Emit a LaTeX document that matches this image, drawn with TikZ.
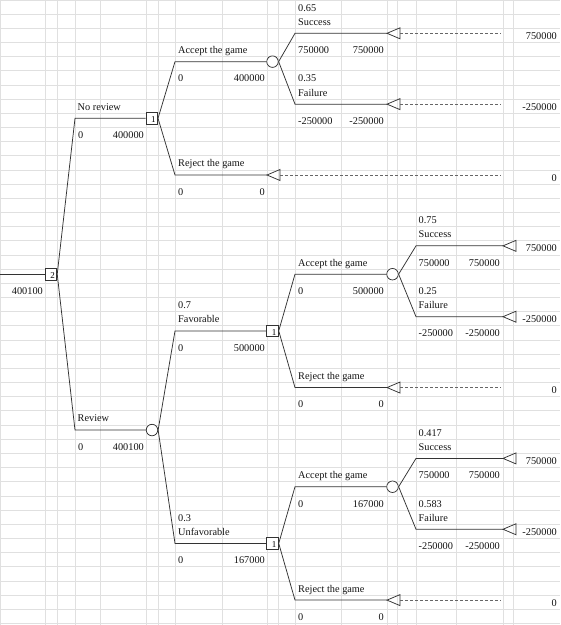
\documentclass[tikz,border=0pt]{standalone}
\usepackage{fontspec}
\setmainfont{Liberation Serif}
\usetikzlibrary{shapes.geometric}
\tikzset{
  gridline/.style={draw=black!12, line width=0.9pt},
  cell/.style={font=\fontsize{10.3}{12}\selectfont, inner sep=0pt, text=black!92},
  lcell/.style={cell, anchor=base west},
  rcell/.style={cell, anchor=base east},
  branch/.style={draw=black!80, line width=0.75pt},
  dashlink/.style={draw=black!60, line width=0.7pt, dash pattern=on 3pt off 2pt},
  decision/.style={draw=black!80, line width=0.75pt, rectangle, minimum size=11.7pt, inner sep=0pt, fill=white},
  chance/.style={draw=black!80, line width=0.75pt, circle, minimum size=11.5pt, inner sep=0pt, fill=white},
  endtri/.style={draw=black!80, line width=0.75pt, isosceles triangle, shape border rotate=180,
    isosceles triangle stretches, minimum width=11pt, minimum height=13pt, inner sep=0pt, outer sep=0pt, anchor=apex},
  nodenum/.style={font=\fontsize{9}{9}\selectfont, inner sep=0pt, xshift=1.5pt, yshift=-1.5pt}
}
\begin{document}
\begin{tikzpicture}[x=1pt, y=-14.17pt]
\useasboundingbox (0,0) rectangle (560,44.107);
\fill[white] (0,0) rectangle (560,44.107);
% sheet grid
\foreach \gx in {0.5,45,57,75,100,146,158,175,222,267,278,295,341,387,397,416,456,503,513}
  \draw[gridline] (\gx,0) -- (\gx,44.107);
\foreach \gy in {0.04,1,2,...,44}
  \draw[gridline] (0,\gy) -- (560,\gy);

% root decision
\coordinate (in) at (0,19.35);
\node[decision] (d0) at (51,19.35) {};
\node[nodenum] (n0) at (d0.center) {2};
\draw[branch] (in) -- (d0);
\node[rcell] (v0) at (43,20.78) {400100};

% no review
\coordinate (b1) at (75,8.35);
\node[decision] (d1) at (151.8,8.35) {};
\node[nodenum] (n1) at (d1.center) {1};
\draw[branch] (d0.east) -- (b1) -- (d1);
\node[lcell] (l1) at (77.5,7.78) {No review};
\node[lcell] (p1) at (78,9.78) {0};
\node[rcell] (q1) at (144,9.78) {400000};

% review
\coordinate (b2) at (75,30.35);
\node[chance] (c0) at (152,30.35) {};
\draw[branch] (d0.east) -- (b2) -- (c0);
\node[lcell] (l2) at (77.5,29.78) {Review};
\node[lcell] (p2) at (78,31.78) {0};
\node[rcell] (q2) at (144,31.78) {400100};

% no review: accept
\coordinate (b3) at (175,4.35);
\node[chance] (c1) at (272.5,4.35) {};
\draw[branch] (d1.east) -- (b3) -- (c1);
\node[lcell] (l3) at (178,3.78) {Accept the game};
\node[lcell] (p3) at (178,5.78) {0};
\node[rcell] (q3) at (265,5.78) {400000};

% no review: reject
\coordinate (b4) at (175,12.35);
\node[endtri] (t1) at (267,12.35) {};
\coordinate (e1) at (501,12.35);
\draw[branch] (d1.east) -- (b4) -- (t1.apex);
\draw[dashlink] (t1.lower side) -- (e1);
\node[lcell] (l4) at (178,11.78) {Reject the game};
\node[lcell] (p4) at (178,13.78) {0};
\node[rcell] (q4) at (265,13.78) {0};
\node[rcell] (v4) at (557,12.78) {0};

% success
\coordinate (b5) at (295,2.35);
\node[endtri] (t2) at (387,2.35) {};
\coordinate (e2) at (501,2.35);
\draw[branch] (c1.east) -- (b5) -- (t2.apex);
\draw[dashlink] (t2.lower side) -- (e2);
\node[lcell] (r5) at (298,0.78) {0.65};
\node[lcell] (l5) at (298,1.78) {Success};
\node[lcell] (p5) at (298,3.78) {750000};
\node[rcell] (q5) at (384,3.78) {750000};
\node[rcell] (v5) at (557,2.78) {750000};

% failure
\coordinate (b6) at (295,7.35);
\node[endtri] (t3) at (387,7.35) {};
\coordinate (e3) at (501,7.35);
\draw[branch] (c1.east) -- (b6) -- (t3.apex);
\draw[dashlink] (t3.lower side) -- (e3);
\node[lcell] (r6) at (298,5.78) {0.35};
\node[lcell] (l6) at (298,6.78) {Failure};
\node[lcell] (p6) at (298,8.78) {-250000};
\node[rcell] (q6) at (384,8.78) {-250000};
\node[rcell] (v6) at (557,7.78) {-250000};

% favorable
\coordinate (b7) at (175,23.35);
\node[decision] (d2) at (272.5,23.35) {};
\node[nodenum] (n2) at (d2.center) {1};
\draw[branch] (c0.east) -- (b7) -- (d2);
\node[lcell] (r7) at (178,21.78) {0.7};
\node[lcell] (l7) at (178,22.78) {Favorable};
\node[lcell] (p7) at (178,24.78) {0};
\node[rcell] (q7) at (265,24.78) {500000};

% unfavorable
\coordinate (b8) at (175,38.35);
\node[decision] (d3) at (272.5,38.35) {};
\node[nodenum] (n3) at (d3.center) {1};
\draw[branch] (c0.east) -- (b8) -- (d3);
\node[lcell] (r8) at (178,36.78) {0.3};
\node[lcell] (l8) at (178,37.78) {Unfavorable};
\node[lcell] (p8) at (178,39.78) {0};
\node[rcell] (q8) at (265,39.78) {167000};

% favorable: accept
\coordinate (b9) at (295,19.35);
\node[chance] (c2) at (392.5,19.35) {};
\draw[branch] (d2.east) -- (b9) -- (c2);
\node[lcell] (l9) at (298,18.78) {Accept the game};
\node[lcell] (p9) at (298,20.78) {0};
\node[rcell] (q9) at (384,20.78) {500000};

% favorable: reject
\coordinate (b10) at (295,27.35);
\node[endtri] (t4) at (387,27.35) {};
\coordinate (e4) at (501,27.35);
\draw[branch] (d2.east) -- (b10) -- (t4.apex);
\draw[dashlink] (t4.lower side) -- (e4);
\node[lcell] (l10) at (298,26.78) {Reject the game};
\node[lcell] (p10) at (298,28.78) {0};
\node[rcell] (q10) at (384,28.78) {0};
\node[rcell] (v10) at (557,27.78) {0};

% success
\coordinate (b11) at (416,17.35);
\node[endtri] (t5) at (503,17.35) {};
\draw[branch] (c2.east) -- (b11) -- (t5.apex);
\node[lcell] (r11) at (418.5,15.78) {0.75};
\node[lcell] (l11) at (418.5,16.78) {Success};
\node[lcell] (p11) at (418.5,18.78) {750000};
\node[rcell] (q11) at (500,18.78) {750000};
\node[rcell] (v11) at (557,17.78) {750000};

% failure
\coordinate (b12) at (416,22.35);
\node[endtri] (t6) at (503,22.35) {};
\draw[branch] (c2.east) -- (b12) -- (t6.apex);
\node[lcell] (r12) at (418.5,20.78) {0.25};
\node[lcell] (l12) at (418.5,21.78) {Failure};
\node[lcell] (p12) at (418.5,23.78) {-250000};
\node[rcell] (q12) at (500,23.78) {-250000};
\node[rcell] (v12) at (557,22.78) {-250000};

% unfavorable: accept
\coordinate (b13) at (295,34.35);
\node[chance] (c3) at (392.5,34.35) {};
\draw[branch] (d3.east) -- (b13) -- (c3);
\node[lcell] (l13) at (298,33.78) {Accept the game};
\node[lcell] (p13) at (298,35.78) {0};
\node[rcell] (q13) at (384,35.78) {167000};

% unfavorable: reject
\coordinate (b14) at (295,42.35);
\node[endtri] (t7) at (387,42.35) {};
\coordinate (e7) at (501,42.35);
\draw[branch] (d3.east) -- (b14) -- (t7.apex);
\draw[dashlink] (t7.lower side) -- (e7);
\node[lcell] (l14) at (298,41.78) {Reject the game};
\node[lcell] (p14) at (298,43.78) {0};
\node[rcell] (q14) at (384,43.78) {0};
\node[rcell] (v14) at (557,42.78) {0};

% success
\coordinate (b15) at (416,32.35);
\node[endtri] (t8) at (503,32.35) {};
\draw[branch] (c3.east) -- (b15) -- (t8.apex);
\node[lcell] (r15) at (418.5,30.78) {0.417};
\node[lcell] (l15) at (418.5,31.78) {Success};
\node[lcell] (p15) at (418.5,33.78) {750000};
\node[rcell] (q15) at (500,33.78) {750000};
\node[rcell] (v15) at (557,32.78) {750000};

% failure
\coordinate (b16) at (416,37.35);
\node[endtri] (t9) at (503,37.35) {};
\draw[branch] (c3.east) -- (b16) -- (t9.apex);
\node[lcell] (r16) at (418.5,35.78) {0.583};
\node[lcell] (l16) at (418.5,36.78) {Failure};
\node[lcell] (p16) at (418.5,38.78) {-250000};
\node[rcell] (q16) at (500,38.78) {-250000};
\node[rcell] (v16) at (557,37.78) {-250000};
\end{tikzpicture}
\end{document}
